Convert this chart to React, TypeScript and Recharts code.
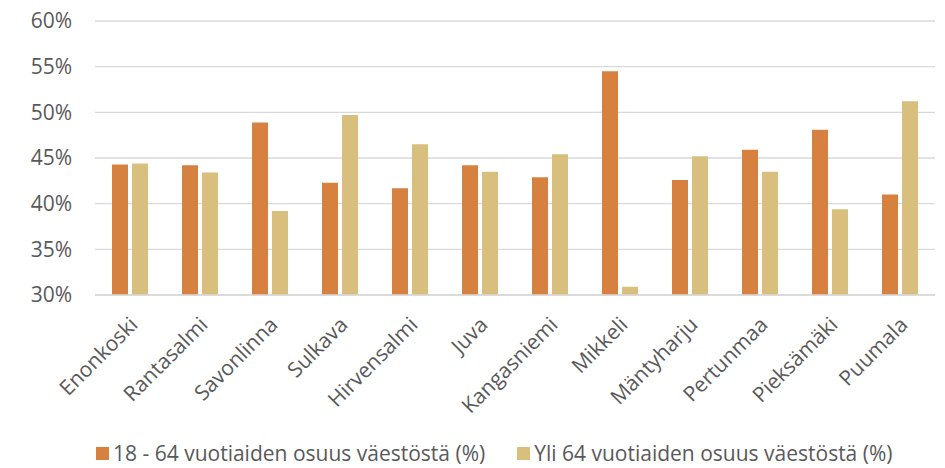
import { BarChart, Bar, XAxis, YAxis, CartesianGrid, Legend } from 'recharts';

const municipalities = [
  'Enonkoski', 'Rantasalmi', 'Savonlinna', 'Sulkava', 'Hirvensalmi', 'Juva',
  'Kangasniemi', 'Mikkeli', 'Mäntyharju', 'Pertunmaa', 'Pieksämäki', 'Puumala',
];
const workingAge = [44.3, 44.2, 48.9, 42.3, 41.7, 44.2, 42.9, 54.5, 42.6, 45.9, 48.1, 41.0];
const over64 = [44.4, 43.4, 39.2, 49.7, 46.5, 43.5, 45.4, 30.9, 45.2, 43.5, 39.4, 51.2];
const yTicks = [30, 35, 40, 45, 50, 55, 60];

const SERIES = [
  { key: 'a', name: '18 - 64 vuotiaiden osuus väestöstä (%)', color: '#d6813f' },
  { key: 'b', name: 'Yli 64 vuotiaiden osuus väestöstä (%)', color: '#d9bf7e' },
];

const FONT = '"Open Sans", sans-serif';
const TEXT = '#595959';

const data = municipalities.map((name, i) => ({ name, a: workingAge[i], b: over64[i] }));

function AngledTick({ x, y, payload }: any) {
  const ax = x + 9;
  const ay = y + 23;
  return (
    <text
      x={ax}
      y={ay}
      textAnchor="end"
      transform={`rotate(-45, ${ax}, ${ay})`}
      fill={TEXT}
      fontSize={21}
      fontFamily={FONT}
    >
      {payload.value}
    </text>
  );
}

function LegendBox() {
  return (
    <div style={{ display: 'flex', paddingLeft: 96, fontFamily: FONT, fontSize: 21, color: TEXT, lineHeight: '29px' }}>
      {SERIES.map((s, i) => (
        <div key={s.key} style={{ display: 'flex', alignItems: 'center', marginRight: i === 0 ? 32 : 0 }}>
          <span style={{ width: 13, height: 13, background: s.color, marginRight: 4, display: 'inline-block' }} />
          <span>{s.name}</span>
        </div>
      ))}
    </div>
  );
}

export default function App() {
  return (
    <div style={{ position: 'absolute', left: 0, top: 0, background: '#fff', width: 945, height: 468 }}>
      <BarChart
        width={945}
        height={468}
        data={data}
        margin={{ top: 21, right: 10, bottom: 0, left: 0 }}
        barSize={16}
        barGap={4}
      >
        <CartesianGrid vertical={false} stroke="#d9d9d9" strokeWidth={1.3} />
        <XAxis
          dataKey="name"
          interval={0}
          height={139}
          tickLine={false}
          axisLine={{ stroke: '#d9d9d9', strokeWidth: 1.3 }}
          tick={<AngledTick />}
        />
        <YAxis
          domain={[30, 60]}
          ticks={yTicks}
          width={95}
          tickSize={0}
          tickMargin={23}
          axisLine={false}
          tickLine={false}
          tickFormatter={(v: number) => `${v}%`}
          tick={{ fill: TEXT, fontSize: 21, fontFamily: FONT }}
        />
        <Legend
          verticalAlign="bottom"
          height={34}
          content={<LegendBox />}
          wrapperStyle={{ left: 0, width: 945, top: 439 }}
        />
        {SERIES.map((s) => (
          <Bar key={s.key} dataKey={s.key} name={s.name} fill={s.color} isAnimationActive={false} />
        ))}
      </BarChart>
    </div>
  );
}
